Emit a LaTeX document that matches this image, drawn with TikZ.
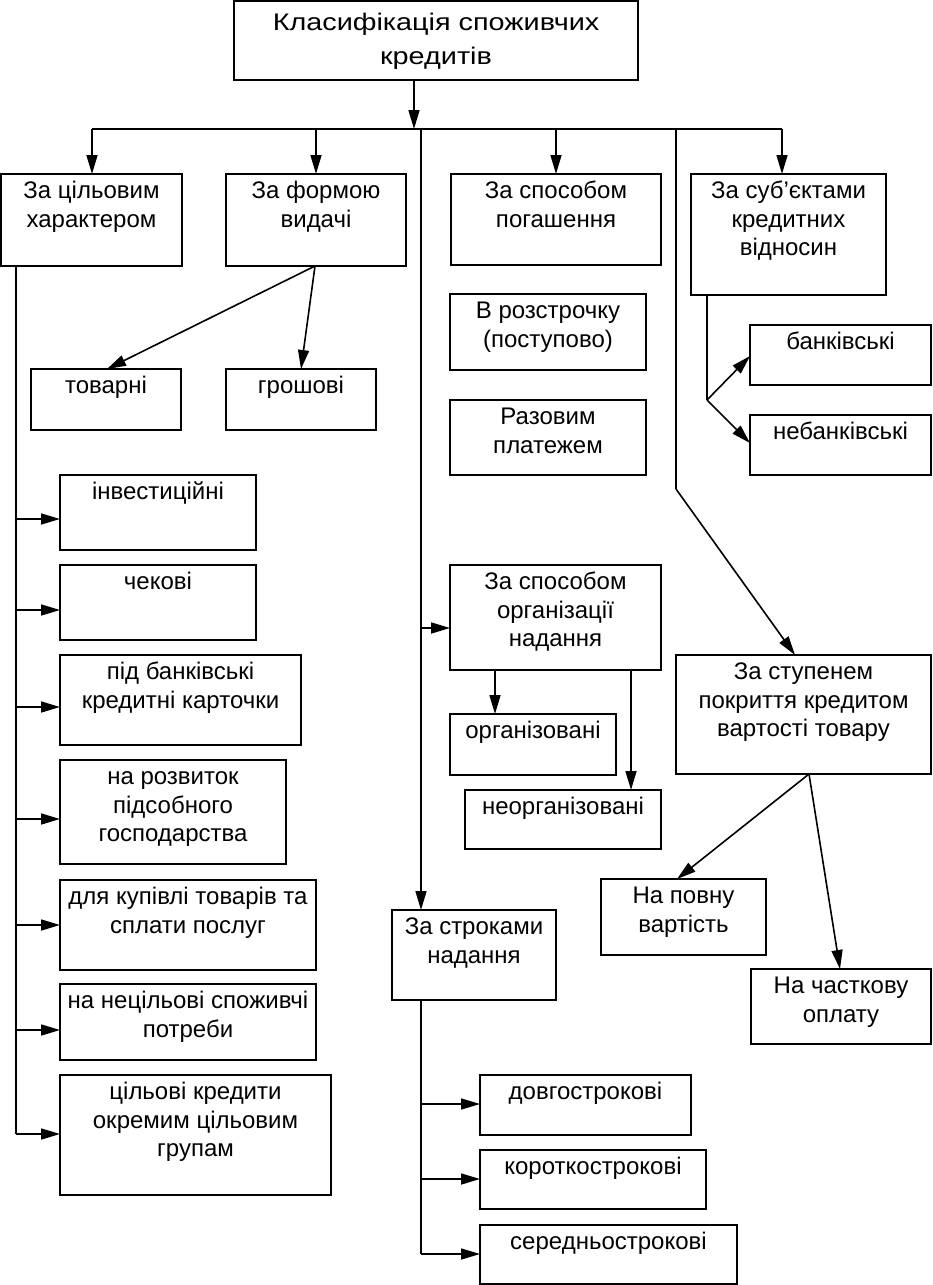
\documentclass[tikz,border=0pt]{standalone}
\usepackage{fontspec}
\setmainfont{Liberation Sans}
\newfontfamily\titlefont[FakeStretch=1.2]{Liberation Sans}
\usetikzlibrary{arrows.meta,calc}
\tikzset{
  bx/.style={draw, line width=1.6pt, rectangle, inner sep=0pt, outer sep=0pt},
  tx/.style={align=center, inner sep=0pt, outer sep=0pt, font=\fontsize{24}{28.5}\selectfont},
  ttx/.style={align=center, inner sep=0pt, outer sep=0pt, font=\titlefont\fontsize{24}{34}\selectfont},
  ln/.style={line width=1.6pt},
  arr/.style={line width=1.6pt, -{Triangle[length=19pt,width=11pt]}},
}
\newcommand\mybox[7][tx]{%
  \node[bx, minimum width={(#5)-(#3)}, minimum height={(#6)-(#4)}, anchor=north west] (#2) at (#3,#4) {};
  \node[#1, anchor=north] (#2-t) at ([yshift=-5.5pt]#2.north) {\rule{0pt}{19pt}#7};
}
\begin{document}
\begin{tikzpicture}[x=1pt,y=-1pt]
\useasboundingbox (0,0) rectangle (932,1285);
% boxes
\node[bx, minimum width=404pt, minimum height=79pt, anchor=north west] (title) at (234,1) {};
\node[ttx, anchor=north] (title-t) at ([yshift=-10pt]title.north) {\rule{0pt}{19pt}Класифікація споживчих\\кредитів};
\mybox{b1}{1}{174}{182}{266}{За цільовим\\характером}
\mybox{b2}{226}{174}{406}{266}{За формою\\видачі}
\mybox{b3}{451}{174}{661}{265}{За способом\\погашення}
\mybox{b4}{691}{174}{886}{295}{За суб’єктами\\кредитних\\відносин}
\mybox{tov}{31}{369}{181}{430}{товарні}
\mybox{gro}{226}{369}{376}{430}{грошові}
\mybox{inv}{60}{475}{256}{550}{інвестиційні}
\mybox{chek}{60}{565}{256}{640}{чекові}
\mybox{kart}{60}{655}{301}{745}{під банківські\\кредитні карточки}
\mybox{rozv}{60}{760}{286}{864}{на розвиток\\підсобного\\господарства}
\mybox{kup}{60}{880}{316}{970}{для купівлі товарів та\\сплати послуг}
\mybox{necil}{60}{984}{316}{1060}{на нецільові споживчі\\потреби}
\mybox{cil}{60}{1075}{331}{1195}{цільові кредити\\окремим цільовим\\групам}
\mybox{rozs}{450}{294}{646}{370}{В розстрочку\\(поступово)}
\mybox{raz}{450}{400}{646}{475}{Разовим\\платежем}
\mybox{bank}{750}{325}{931}{385}{банківські}
\mybox{nebank}{750}{415}{931}{475}{небанківські}
\mybox{org}{450}{565}{661}{670}{За способом\\організації\\надання}
\mybox{orgz}{450}{714}{616}{775}{організовані}
\mybox{neorg}{465}{790}{661}{849}{неорганізовані}
\mybox{stup}{676}{655}{931}{774}{За ступенем\\покриття кредитом\\вартості товару}
\mybox{povn}{601}{879}{766}{955}{На повну\\вартість}
\mybox{chast}{751}{969}{931}{1044}{На часткову\\оплату}
\mybox{strok}{392}{910}{556}{1000}{За строками\\надання}
\mybox{dovg}{480}{1075}{691}{1135}{довгострокові}
\mybox{korot}{480}{1150}{706}{1209}{короткострокові}
\mybox{sered}{480}{1225}{737}{1284}{середньострокові}
% junction coordinates
\coordinate (busc) at (414,129);
\coordinate (busl) at (92,129);
\coordinate (busr) at (782,129);
\coordinate (spine) at (421,129);
\coordinate (rsp) at (676,129);
\coordinate (rbend) at (676,489);
\coordinate (stuptip) at (795,655);
\coordinate (lsp) at (16,266);
\coordinate (lend) at (16,1134);
\coordinate (b2o) at (315,266);
\coordinate (tovtip) at (107,369);
\coordinate (grotip) at (301,369);
\coordinate (b4o) at (707,295);
\coordinate (b4j) at (707,400);
\coordinate (banktip) at (750,356);
\coordinate (nebanktip) at (750,443);
\coordinate (orgl) at (495,670);
\coordinate (orgr) at (631,670);
\coordinate (stupo) at (809,774);
\coordinate (povntip) at (677,879);
\coordinate (chasttip) at (840,969);
\coordinate (strokb) at (421,1000);
\coordinate (strokend) at (421,1254);
% connectors
\draw[arr] (title.south -| busc) -- (busc);
\draw[ln] (busl) -- (busr);
\draw[arr] (busl) -- (busl |- b1.north);
\draw[arr] (b2.north |- busl) -- (b2.north);
\draw[arr] (b3.north |- busl) -- (b3.north);
\draw[arr] (busr) -- (busr |- b4.north);
\draw[arr] (spine) -- (spine |- strok.north);
\draw[arr] (421,628) -- (org.west |- 0,628);
\draw[ln] (rsp) -- (rbend);
\draw[arr] (rbend) -- (stuptip);
% left branch
\draw[ln] (lsp) -- (lend);
\draw[arr] (lend) -- (cil.west |- lend);
\foreach \nm/\yy in {inv/519, chek/610, kart/707, rozv/819, kup/925, necil/1030}{
  \draw[arr] (16,\yy) -- (\nm.west |- 0,\yy);
}
% form branch
\draw[arr] (b2o) -- (tovtip);
\draw[arr] (b2o) -- (grotip);
% subjects branch
\draw[ln] (b4o) -- (b4j);
\draw[arr] (b4j) -- (banktip);
\draw[arr] (b4j) -- (nebanktip);
% organisation branch
\draw[arr] (orgl) -- (orgl |- orgz.north);
\draw[arr] (orgr) -- (orgr |- neorg.north);
% coverage branch
\draw[arr] (stupo) -- (povntip);
\draw[arr] (stupo) -- (chasttip);
% terms branch
\draw[ln] (strokb) -- (strokend);
\foreach \nm/\yy in {dovg/1104, korot/1179, sered/1254}{
  \draw[arr] (421,\yy) -- (\nm.west |- 0,\yy);
}
\end{tikzpicture}
\end{document}
